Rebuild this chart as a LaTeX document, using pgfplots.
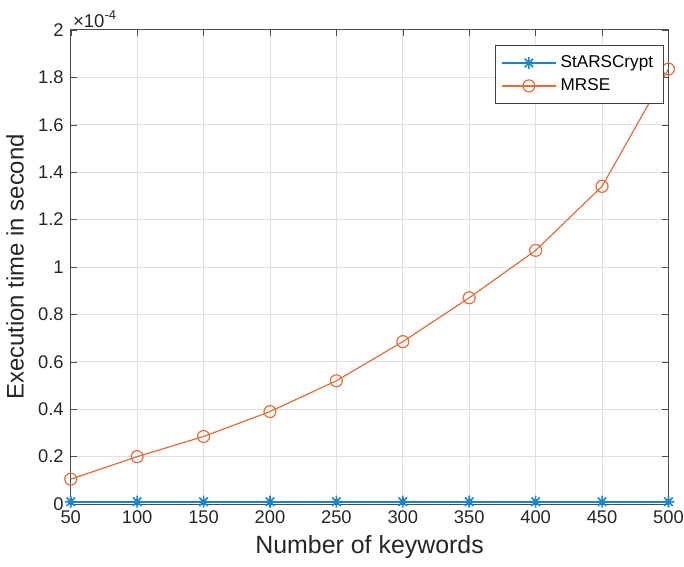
\documentclass[border=0pt]{standalone}
\usepackage{pgfplots}
\pgfplotsset{compat=1.18}
\usepackage{fontspec}
\setmainfont{Liberation Sans}
\definecolor{mblue}{rgb}{0.10,0.52,0.82}
\definecolor{morange}{rgb}{0.90,0.42,0.22}
% MATLAB style eight-armed asterisk
\pgfdeclareplotmark{star8}{%
  \pgfpathmoveto{\pgfqpoint{0pt}{\pgfplotmarksize}}%
  \pgfpathlineto{\pgfqpoint{0pt}{-\pgfplotmarksize}}%
  \pgfpathmoveto{\pgfqpoint{\pgfplotmarksize}{0pt}}%
  \pgfpathlineto{\pgfqpoint{-\pgfplotmarksize}{0pt}}%
  \pgfpathmoveto{\pgfqpoint{0.707\pgfplotmarksize}{0.707\pgfplotmarksize}}%
  \pgfpathlineto{\pgfqpoint{-0.707\pgfplotmarksize}{-0.707\pgfplotmarksize}}%
  \pgfpathmoveto{\pgfqpoint{0.707\pgfplotmarksize}{-0.707\pgfplotmarksize}}%
  \pgfpathlineto{\pgfqpoint{-0.707\pgfplotmarksize}{0.707\pgfplotmarksize}}%
  \pgfusepathqstroke}
\begin{document}
\begin{tikzpicture}
\begin{axis}[
  name=ax,
  scale only axis,
  width=300pt,
  height=238pt,
  xmin=50, xmax=500,
  ymin=0, ymax=2e-4,
  xtick={50,100,...,500},
  ytick={0,0.2e-4,0.4e-4,0.6e-4,0.8e-4,1e-4,1.2e-4,1.4e-4,1.6e-4,1.8e-4,2e-4},
  scaled y ticks=base 10:4,
  ytick scale label code/.code={×10\textsuperscript{-4}},
  every y tick scale label/.style={at={(rel axis cs:0,1)}, anchor=south west, inner sep=1pt, font=\fontsize{9.3}{10}\selectfont, color=black!85},
  /pgf/number format/assume math mode=true,
  yticklabel style={/pgf/number format/fixed, /pgf/number format/precision=1},
  tick label style={font=\fontsize{9.2}{10}\selectfont, color=black!85},
  xticklabel style={inner xsep=0pt},
  xlabel={Number of keywords},
  ylabel={Execution time in second},
  x label style={at={(axis description cs:0.5,-0.09)}, anchor=center, inner sep=0pt, font=\fontsize{12.5}{14}\selectfont, color=black!85},
  y label style={at={(axis description cs:-0.093,0.5)}, anchor=center, inner sep=0pt, font=\fontsize{12}{14}\selectfont, color=black!85},
  grid=major,
  major grid style={color=black!12, line width=0.4pt},
  axis line style={color=black!70, line width=0.5pt},
  tick style={color=black!70},
  tick align=inside,
  major tick length=3pt,
  legend style={
    at={(rel axis cs:0.9917,0.968)}, anchor=north east,
    font=\fontsize{8.6}{10}\selectfont,
    draw=black!75, line width=0.5pt,
    inner xsep=3pt, inner ysep=3pt,
    row sep=0pt,
    legend cell align=left
  },
  legend image code/.code={%
    \draw[mark repeat=2, mark phase=2] plot coordinates {(0pt,0pt) (13.5pt,0pt) (27pt,0pt)};}
]
\addplot[color=mblue, line width=0.9pt, mark=star8, mark size=3pt, mark options={line width=0.8pt}] coordinates {
  (50,0.01e-4) (100,0.01e-4) (150,0.01e-4) (200,0.01e-4) (250,0.01e-4)
  (300,0.01e-4) (350,0.01e-4) (400,0.01e-4) (450,0.01e-4) (500,0.01e-4)
};
\addplot[color=morange, line width=0.6pt, mark=o, mark size=3pt] coordinates {
  (50,0.105e-4) (100,0.20e-4) (150,0.285e-4) (200,0.39e-4) (250,0.52e-4)
  (300,0.685e-4) (350,0.87e-4) (400,1.07e-4) (450,1.34e-4) (500,1.835e-4)
};
\legend{StARSCrypt,MRSE}
\end{axis}
\path (ax.south west) ++(-35.5pt,-31.5pt) coordinate (bl);
\path (ax.north east) ++(7.8pt,15pt) coordinate (tr);
\path[use as bounding box] (bl) rectangle (tr);
\end{tikzpicture}
\end{document}
